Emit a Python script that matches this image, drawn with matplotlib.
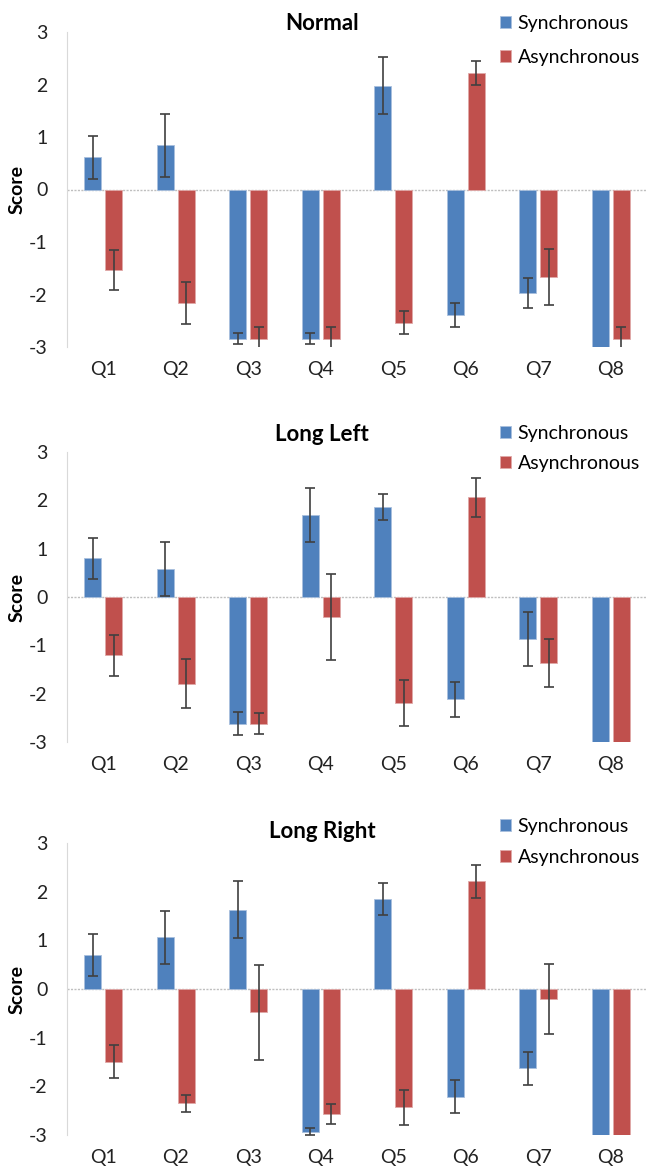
import numpy as np
import matplotlib.pyplot as plt

plt.rcParams['font.family'] = ['Lato', 'DejaVu Sans']
plt.rcParams['axes.unicode_minus'] = False

questions = ['Q1', 'Q2', 'Q3', 'Q4', 'Q5', 'Q6', 'Q7', 'Q8']
titles = ['Normal', 'Long Left', 'Long Right']

# mean scores and error bar half-widths
normal_sync = [0.61, 0.84, -2.84, -2.84, 1.98, -2.39, -1.97, -3.0]
normal_sync_err = [0.41, 0.60, 0.10, 0.10, 0.55, 0.23, 0.28, 0.0]
normal_async = [-1.53, -2.17, -2.84, -2.84, -2.54, 2.22, -1.67, -2.84]
normal_async_err = [0.38, 0.40, 0.22, 0.22, 0.22, 0.23, 0.53, 0.22]

left_sync = [0.80, 0.58, -2.62, 1.70, 1.86, -2.12, -0.86, -3.0]
left_sync_err = [0.43, 0.56, 0.24, 0.56, 0.27, 0.36, 0.56, 0.0]
left_async = [-1.21, -1.79, -2.62, -0.42, -2.19, 2.06, -1.37, -3.0]
left_async_err = [0.42, 0.50, 0.22, 0.89, 0.47, 0.41, 0.50, 0.0]

right_sync = [0.70, 1.06, 1.63, -2.93, 1.85, -2.21, -1.63, -3.0]
right_sync_err = [0.43, 0.54, 0.58, 0.07, 0.33, 0.34, 0.34, 0.0]
right_async = [-1.49, -2.35, -0.48, -2.57, -2.43, 2.21, -0.20, -3.0]
right_async_err = [0.33, 0.18, 0.97, 0.20, 0.36, 0.33, 0.72, 0.0]

sync_vals = [normal_sync, left_sync, right_sync]
sync_errs = [normal_sync_err, left_sync_err, right_sync_err]
async_vals = [normal_async, left_async, right_async]
async_errs = [normal_async_err, left_async_err, right_async_err]

W, H = 648, 1171
fig = plt.figure(figsize=(W / 100, H / 100), dpi=100)

# pixel layout of each panel: (top of axes, bottom of axes, title y, legend top y, legend row gap)
panels = [(32, 347, 23, 15, 0.85), (452, 742, 434, 425, 0.65), (843, 1135, 832, 818, 0.7)]
left_px, right_px = 67, 647

blue = '#4F81BD'
red = '#C0504D'
x = np.arange(len(questions))
w = 0.235
off = 0.145
ekw = dict(fmt='none', ecolor='#404040', elinewidth=1.2, capsize=3.5, capthick=1.2, zorder=3)


def draw_err(ax, xs, vals, errs):
    xs = np.asarray(xs)
    vals = np.asarray(vals)
    errs = np.asarray(errs)
    keep = errs > 0
    ax.errorbar(xs[keep], vals[keep], yerr=errs[keep], **ekw)


for i, (top, bot, ty, ly, lsp) in enumerate(panels):
    ax = fig.add_axes([left_px / W, 1 - bot / H, (right_px - left_px) / W, (bot - top) / H])
    ax.bar(x - off, sync_vals[i], w, color=blue, edgecolor='#a9c0dd',
           linewidth=0.6, label='Synchronous', zorder=2)
    ax.bar(x + off, async_vals[i], w, color=red, edgecolor='#e0a9a8',
           linewidth=0.6, label='Asynchronous', zorder=2)
    draw_err(ax, x - off, sync_vals[i], sync_errs[i])
    draw_err(ax, x + off, async_vals[i], async_errs[i])
    ax.axhline(0, color='#bfbfbf', lw=1, ls=(0, (1.5, 1)), zorder=1)
    ax.set_xlim(-0.5, 7.5)
    ax.set_ylim(-3, 3)
    ax.set_yticks([-3, -2, -1, 0, 1, 2, 3])
    ax.set_xticks(x)
    ax.set_xticklabels(questions)
    ax.tick_params(axis='both', length=0, labelsize=14, colors='#222222')
    ax.tick_params(axis='x', pad=10)
    ax.tick_params(axis='y', pad=14)
    for s in ['top', 'right', 'bottom']:
        ax.spines[s].set_visible(False)
    ax.spines['left'].set_color('#d9d9d9')
    ax.set_ylabel('Score', fontweight='bold', fontsize=14, labelpad=2)
    fig.text(322 / W, 1 - ty / H, titles[i], ha='center', va='center',
             fontweight='bold', fontsize=16)
    ax.legend(loc='upper left', bbox_to_anchor=(500 / W, 1 - ly / H),
              bbox_transform=fig.transFigure, frameon=False, fontsize=14,
              handlelength=0.55, handleheight=0.55, handletextpad=0.35,
              labelspacing=lsp, borderaxespad=0, borderpad=0)

fig.savefig('out.png', dpi=100)
